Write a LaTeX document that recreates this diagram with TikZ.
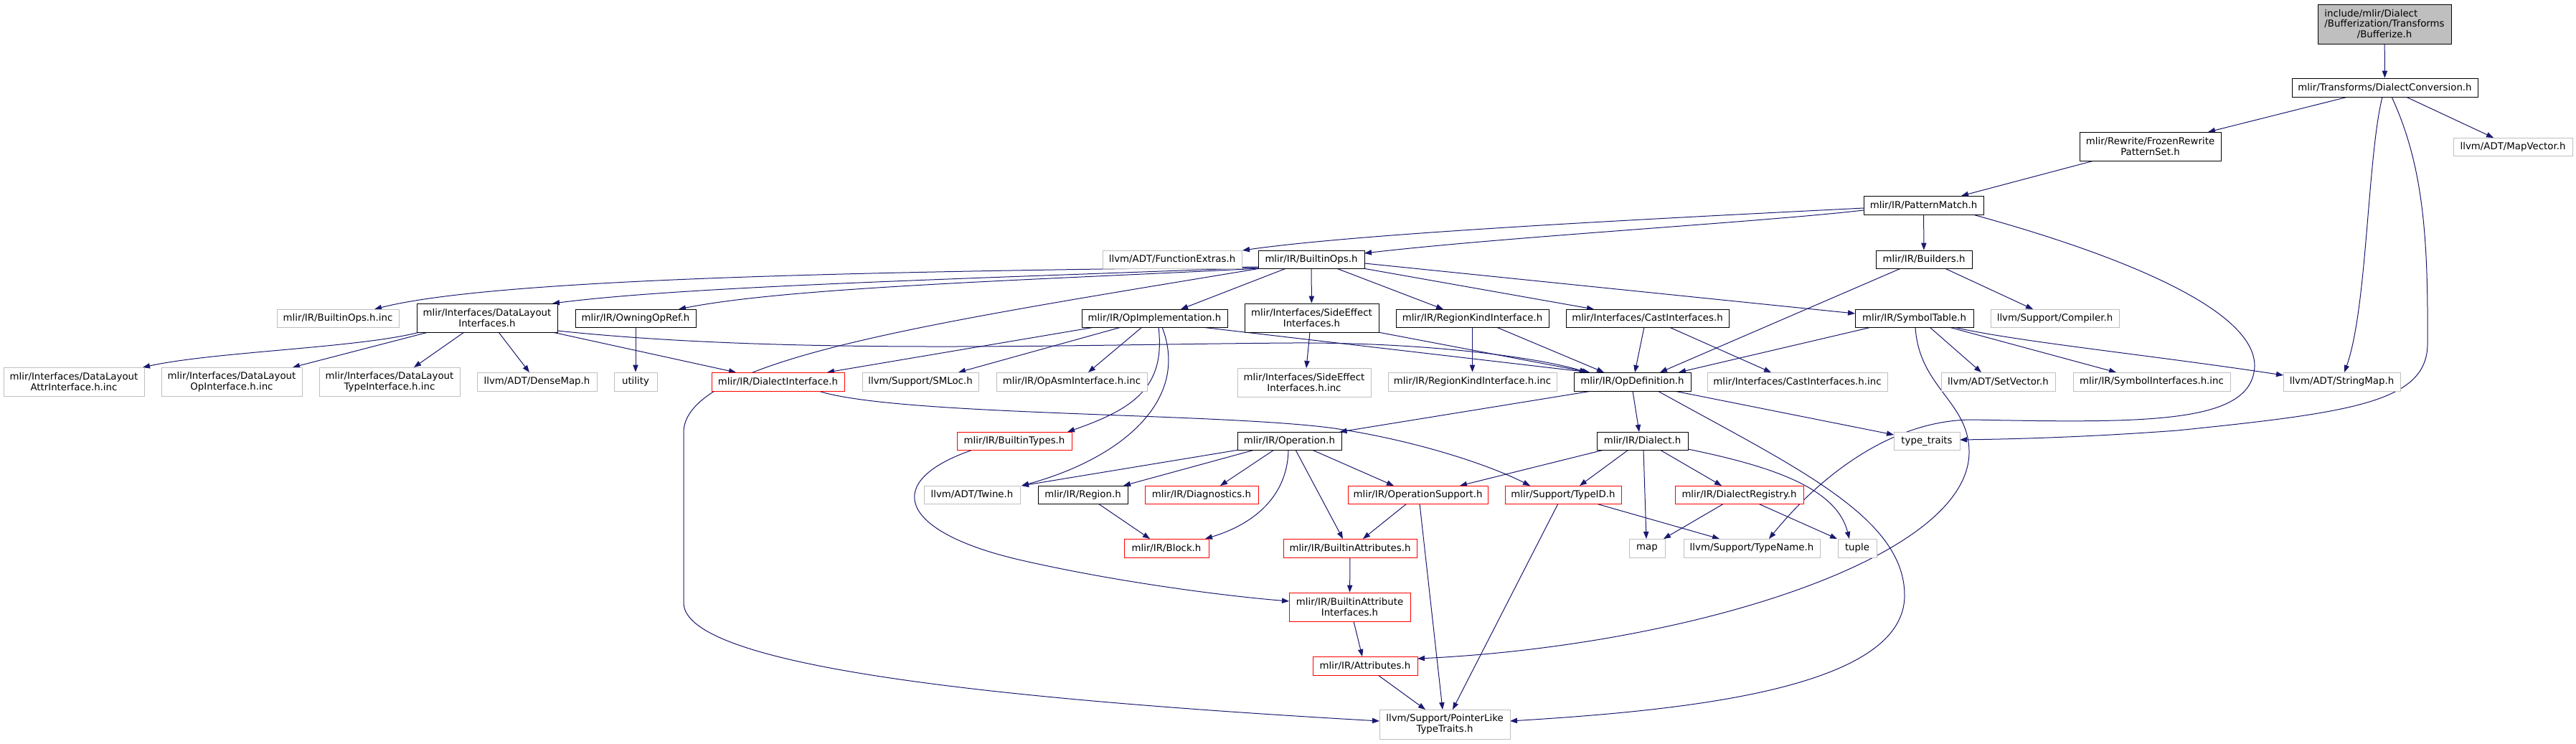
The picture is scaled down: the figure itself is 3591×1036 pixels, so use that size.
\documentclass[tikz,border=0pt]{standalone}
\usepackage{fontspec}
\setmainfont{DejaVu Sans}
\usetikzlibrary{arrows.meta}
\definecolor{edgec}{HTML}{191970}
\definecolor{greyb}{HTML}{BFBFBF}
\definecolor{redb}{HTML}{FF0000}
\pgfdeclarelayer{bg}
\pgfsetlayers{bg,main}
\newlength\rootw
\newcommand\nd[7]{\node[#6, minimum width={(#4-#2)*0.75pt}, minimum height={(#5-#3)*0.75pt}] (#1) at ({(#2+#4)/2},{(#3+#5)/2}) {#7};}
\tikzset{
  box/.style={draw=black, line width=0.65pt, fill=white, inner sep=0pt, align=center,
    font=\fontsize{10}{11.2}\selectfont, text=black},
  docn/.style={box},
  extn/.style={box, draw=greyb},
  trunc/.style={box, draw=redb},
  rootn/.style={box, fill=greyb},
  e/.style={draw=edgec, line width=0.75pt, -{Triangle[length=7.5pt,width=5.5pt]}},
}
\begin{document}
\settowidth\rootw{\fontsize{10}{11.2}\selectfont /Bufferization/Transforms}
\begin{tikzpicture}[x=0.75pt, y=-0.75pt]
\useasboundingbox (0,0) rectangle (3591,1036);
% nodes: name x1 y1 x2 y2 style text
\nd{root}{3231}{6}{3417}{61}{rootn}{\makebox[\rootw][l]{include/mlir/Dialect}\\/Bufferization/Transforms\\/Bufferize.h}
\nd{dconv}{3195}{109}{3454}{135}{docn}{mlir/Transforms/DialectConversion.h}
\nd{frozen}{2899}{184}{3096}{224}{docn}{mlir/Rewrite/FrozenRewrite\\PatternSet.h}
\nd{mapvec}{3420}{192}{3586}{217}{extn}{llvm/ADT/MapVector.h}
\nd{pmatch}{2598}{273}{2765}{299}{docn}{mlir/IR/PatternMatch.h}
\nd{funcext}{1537}{349}{1731}{374}{extn}{llvm/ADT/FunctionExtras.h}
\nd{bops}{1754}{349}{1902}{374}{docn}{mlir/IR/BuiltinOps.h}
\nd{builders}{2615}{349}{2749}{374}{docn}{mlir/IR/Builders.h}
\nd{bopsinc}{386}{431}{556}{456}{extn}{mlir/IR/BuiltinOps.h.inc}
\nd{dli}{581}{423}{777}{463}{docn}{mlir/Interfaces/DataLayout\\Interfaces.h}
\nd{owning}{802}{431}{970}{456}{docn}{mlir/IR/OwningOpRef.h}
\nd{opimpl}{1508}{431}{1711}{456}{docn}{mlir/IR/OpImplementation.h}
\nd{sideeff}{1735}{423}{1922}{463}{docn}{mlir/Interfaces/SideEffect\\Interfaces.h}
\nd{rki}{1946}{431}{2159}{456}{docn}{mlir/IR/RegionKindInterface.h}
\nd{casti}{2183}{431}{2410}{456}{docn}{mlir/Interfaces/CastInterfaces.h}
\nd{symtab}{2586}{431}{2751}{456}{docn}{mlir/IR/SymbolTable.h}
\nd{compiler}{2775}{431}{2954}{456}{extn}{llvm/Support/Compiler.h}
\nd{dlattr}{5}{512}{201}{552}{extn}{mlir/Interfaces/DataLayout\\AttrInterface.h.inc}
\nd{dlop}{225}{512}{421}{552}{extn}{mlir/Interfaces/DataLayout\\OpInterface.h.inc}
\nd{dltype}{445}{512}{641}{552}{extn}{mlir/Interfaces/DataLayout\\TypeInterface.h.inc}
\nd{densemap}{665}{519}{832}{545}{extn}{llvm/ADT/DenseMap.h}
\nd{utility}{856}{519}{916}{545}{extn}{utility}
\nd{dialif}{992}{519}{1177}{545}{trunc}{mlir/IR/DialectInterface.h}
\nd{smloc}{1202}{519}{1364}{545}{extn}{llvm/Support/SMLoc.h}
\nd{opasm}{1389}{519}{1599}{545}{extn}{mlir/IR/OpAsmInterface.h.inc}
\nd{seinc}{1725}{513}{1911}{553}{extn}{mlir/Interfaces/SideEffect\\Interfaces.h.inc}
\nd{rkiinc}{1935}{519}{2170}{545}{extn}{mlir/IR/RegionKindInterface.h.inc}
\nd{opdef}{2194}{519}{2357}{545}{docn}{mlir/IR/OpDefinition.h}
\nd{castinc}{2380}{519}{2631}{545}{extn}{mlir/Interfaces/CastInterfaces.h.inc}
\nd{setvec}{2706}{519}{2865}{545}{extn}{llvm/ADT/SetVector.h}
\nd{syminc}{2890}{519}{3109}{545}{extn}{mlir/IR/SymbolInterfaces.h.inc}
\nd{strmap}{3183}{519}{3346}{545}{extn}{llvm/ADT/StringMap.h}
\nd{btypes}{1334}{602}{1494}{627}{trunc}{mlir/IR/BuiltinTypes.h}
\nd{operation}{1725}{602}{1870}{627}{docn}{mlir/IR/Operation.h}
\nd{dialect}{2226}{602}{2353}{627}{docn}{mlir/IR/Dialect.h}
\nd{typetr}{2640}{602}{2732}{627}{extn}{type\_traits}
\nd{twine}{1288}{677}{1422}{702}{extn}{llvm/ADT/Twine.h}
\nd{region}{1447}{677}{1572}{702}{docn}{mlir/IR/Region.h}
\nd{diag}{1596}{677}{1754}{702}{trunc}{mlir/IR/Diagnostics.h}
\nd{opsupp}{1879}{677}{2074}{702}{trunc}{mlir/IR/OperationSupport.h}
\nd{typeid}{2098}{677}{2260}{702}{trunc}{mlir/Support/TypeID.h}
\nd{dreg}{2335}{677}{2514}{702}{trunc}{mlir/IR/DialectRegistry.h}
\nd{block}{1567}{751}{1685}{777}{trunc}{mlir/IR/Block.h}
\nd{battr}{1789}{751}{1975}{777}{trunc}{mlir/IR/BuiltinAttributes.h}
\nd{map}{2271}{751}{2321}{777}{extn}{map}
\nd{tname}{2347}{751}{2537}{777}{extn}{llvm/Support/TypeName.h}
\nd{tuple}{2562}{751}{2616}{777}{extn}{tuple}
\nd{bai}{1797}{826}{1966}{866}{trunc}{mlir/IR/BuiltinAttribute\\Interfaces.h}
\nd{attrs}{1830}{915}{1976}{941}{trunc}{mlir/IR/Attributes.h}
\nd{plt}{1923}{989}{2105}{1030}{extn}{llvm/Support/PointerLike\\TypeTraits.h}
\begin{pgfonlayer}{bg}
\fill[white] (0,0) rectangle (3591,1036);
\draw[e] (root) -- (dconv);
\draw[e] ([shift={(-51.5,13)}]dconv.center) -- ([shift={(80.5,-20)}]frozen.center);
\draw[e] ([shift={(29.5,13)}]dconv.center) -- ([shift={(-27,-12.5)}]mapvec.center);
\draw[e] ([shift={(-3.5,13)}]dconv.center) .. controls (3300,220) and (3300,430) .. ([shift={(3.5,-13)}]strmap.center);
\draw[e] ([shift={(9.5,13)}]dconv.center) .. controls (3378,230) and (3385,330) .. (3384,480) .. controls (3383,560) and (3280,575) .. (3035,600) .. controls (2900,610) and (2800,612) .. ([shift={(46,-1.5)}]typetr.center);
\draw[e] ([shift={(-78.5,20)}]frozen.center) -- ([shift={(52.5,-13)}]pmatch.center);
\draw[e] ([shift={(-83.5,4)}]pmatch.center) .. controls (2300,305) and (1900,325) .. ([shift={(98,-12.5)}]funcext.center);
\draw[e] ([shift={(-83.5,7)}]pmatch.center) .. controls (2450,310) and (2100,330) .. ([shift={(74,-8.5)}]bops.center);
\draw[e] (pmatch) -- (builders);
\draw[e] ([shift={(68.5,13)}]pmatch.center) .. controls (2900,340) and (3143,420) .. (3143,510) .. controls (3140,590) and (3000,590) .. (2750,585) .. controls (2640,585) and (2540,660) .. ([shift={(24,-13)}]tname.center);
\draw[e] ([shift={(-72,10.5)}]bops.center) .. controls (1300,378) and (700,385) .. ([shift={(51,-12.5)}]bopsinc.center);
\draw[e] ([shift={(-72,11.5)}]bops.center) .. controls (1300,390) and (950,400) .. ([shift={(91,-20)}]dli.center);
\draw[e] ([shift={(-70,12.5)}]bops.center) .. controls (1450,390) and (1100,400) .. ([shift={(60,-12.5)}]owning.center);
\draw[e] ([shift={(-35,12.5)}]bops.center) -- ([shift={(36.5,-12.5)}]opimpl.center);
\draw[e] (bops) -- (sideeff);
\draw[e] ([shift={(35,12.5)}]bops.center) -- ([shift={(-40.5,-12.5)}]rki.center);
\draw[e] ([shift={(72,12.5)}]bops.center) -- ([shift={(-74.5,-12.5)}]casti.center);
\draw[e] ([shift={(74,5.5)}]bops.center) -- ([shift={(-82.5,-6.5)}]symtab.center);
\draw[e] ([shift={(-71,12.5)}]bops.center) .. controls (1300,450) and (960,500) .. (953,600) -- (953,840) .. controls (953,930) and (1400,975) .. ([shift={(-91,-4.5)}]plt.center);
\draw[e] ([shift={(-94,20)}]dli.center) .. controls (500,485) and (300,490) .. ([shift={(96,-20)}]dlattr.center);
\draw[e] ([shift={(-82,20)}]dli.center) -- ([shift={(85,-20)}]dlop.center);
\draw[e] ([shift={(-32,20)}]dli.center) -- ([shift={(34,-20)}]dltype.center);
\draw[e] ([shift={(16,20)}]dli.center) -- ([shift={(-10.5,-13)}]densemap.center);
\draw[e] ([shift={(91,20)}]dli.center) -- ([shift={(-58.5,-13)}]dialif.center);
\draw[e] ([shift={(98,18)}]dli.center) .. controls (1100,495) and (1500,480) .. (1800,478) .. controls (2000,477) and (2150,500) .. ([shift={(-63.5,-13)}]opdef.center);
\draw[e] (owning) -- (utility);
\draw[e] ([shift={(-83.5,12.5)}]opimpl.center) -- ([shift={(68.5,-13)}]dialif.center);
\draw[e] ([shift={(-46.5,12.5)}]opimpl.center) -- ([shift={(53,-13)}]smloc.center);
\draw[e] ([shift={(-17.5,12.5)}]opimpl.center) -- ([shift={(23,-13)}]opasm.center);
\draw[e] ([shift={(5.5,12.5)}]opimpl.center) .. controls (1625,540) and (1580,570) .. ([shift={(74,-12.5)}]btypes.center);
\draw[e] ([shift={(10.5,12.5)}]opimpl.center) .. controls (1660,560) and (1560,640) .. ([shift={(69,-12.5)}]twine.center);
\draw[e] ([shift={(65.5,12.5)}]opimpl.center) -- ([shift={(-59.5,-13)}]opdef.center);
\draw[e] ([shift={(-2.5,20)}]sideeff.center) -- ([shift={(3,-20)}]seinc.center);
\draw[e] ([shift={(92.5,20)}]sideeff.center) -- ([shift={(-59.5,-13)}]opdef.center);
\draw[e] (rki) -- (rkiinc);
\draw[e] ([shift={(33.5,12.5)}]rki.center) -- ([shift={(-39.5,-13)}]opdef.center);
\draw[e] ([shift={(-4.5,12.5)}]casti.center) -- ([shift={(3.5,-13)}]opdef.center);
\draw[e] ([shift={(30.5,12.5)}]casti.center) -- ([shift={(-36.5,-13)}]castinc.center);
\draw[e] ([shift={(-32,12.5)}]builders.center) -- ([shift={(38.5,-13)}]opdef.center);
\draw[e] ([shift={(29,12.5)}]builders.center) -- ([shift={(-30.5,-12.5)}]compiler.center);
\draw[e] ([shift={(-59.5,12.5)}]symtab.center) -- ([shift={(64.5,-13)}]opdef.center);
\draw[e] ([shift={(21.5,12.5)}]symtab.center) -- ([shift={(-23.5,-13)}]setvec.center);
\draw[e] ([shift={(48.5,12.5)}]symtab.center) -- ([shift={(-49.5,-13)}]syminc.center);
\draw[e] ([shift={(51.5,11.5)}]symtab.center) .. controls (2800,475) and (3000,495) .. ([shift={(-81.5,-9)}]strmap.center);
\draw[e] ([shift={(1.5,12.5)}]symtab.center) .. controls (2675,540) and (2745,560) .. (2745,630) .. controls (2745,780) and (2350,900) .. ([shift={(73,-10)}]attrs.center);
\draw[e] ([shift={(-56.5,13)}]opdef.center) -- ([shift={(70,-12.5)}]operation.center);
\draw[e] ([shift={(0.5,13)}]opdef.center) -- ([shift={(-4.5,-12.5)}]dialect.center);
\draw[e] ([shift={(58.5,13)}]opdef.center) -- ([shift={(-46,-8.5)}]typetr.center);
\draw[e] ([shift={(35.5,13)}]opdef.center) .. controls (2500,650) and (2655,720) .. (2655,830) .. controls (2655,960) and (2350,990) .. ([shift={(91,-4.5)}]plt.center);
\draw[e] ([shift={(56.5,13)}]dialif.center) .. controls (1250,580) and (1700,575) .. (1860,597) .. controls (1980,615) and (2080,650) .. ([shift={(-46,-12.5)}]typeid.center);
\draw[e] ([shift={(-58,12.5)}]btypes.center) .. controls (1230,670) and (1250,740) .. (1420,780) .. controls (1550,810) and (1700,830) .. ([shift={(-84.5,-8)}]bai.center);
\draw[e] ([shift={(-70.5,12.5)}]operation.center) -- ([shift={(69,-12.5)}]twine.center);
\draw[e] ([shift={(-48.5,12.5)}]operation.center) -- ([shift={(56.5,-12.5)}]region.center);
\draw[e] ([shift={(-21.5,12.5)}]operation.center) -- ([shift={(26,-12.5)}]diag.center);
\draw[e] ([shift={(-1.5,12.5)}]operation.center) .. controls (1795,690) and (1750,730) .. ([shift={(54,-13)}]block.center);
\draw[e] ([shift={(8.5,12.5)}]operation.center) -- ([shift={(-10,-13)}]battr.center);
\draw[e] ([shift={(31.5,12.5)}]operation.center) -- ([shift={(-33.5,-12.5)}]opsupp.center);
\draw[e] ([shift={(21.5,12.5)}]region.center) -- ([shift={(-23,-13)}]block.center);
\draw[e] ([shift={(-53.5,12.5)}]dialect.center) -- ([shift={(58.5,-12.5)}]opsupp.center);
\draw[e] ([shift={(-19.5,12.5)}]dialect.center) -- ([shift={(23,-12.5)}]typeid.center);
\draw[e] ([shift={(1.5,12.5)}]dialect.center) -- ([shift={(-1,-13)}]map.center);
\draw[e] ([shift={(24.5,12.5)}]dialect.center) -- ([shift={(-24.5,-12.5)}]dreg.center);
\draw[e] ([shift={(63.5,11.5)}]dialect.center) .. controls (2470,650) and (2560,680) .. ([shift={(-11,-13)}]tuple.center);
\draw[e] ([shift={(-15.5,12.5)}]opsupp.center) -- ([shift={(18,-13)}]battr.center);
\draw[e] ([shift={(2.5,12.5)}]opsupp.center) -- ([shift={(-3,-20.5)}]plt.center);
\draw[e] ([shift={(-7,12.5)}]typeid.center) -- ([shift={(11,-20.5)}]plt.center);
\draw[e] ([shift={(46,12.5)}]typeid.center) -- ([shift={(-45,-13)}]tname.center);
\draw[e] ([shift={(-21.5,12.5)}]dreg.center) -- ([shift={(23,-13)}]map.center);
\draw[e] ([shift={(26.5,12.5)}]dreg.center) -- ([shift={(-28,-13)}]tuple.center);
\draw[e] (battr) -- (bai);
\draw[e] ([shift={(5.5,20)}]bai.center) -- ([shift={(-4,-13)}]attrs.center);
\draw[e] ([shift={(18,13)}]attrs.center) -- ([shift={(-27,-20.5)}]plt.center);
\end{pgfonlayer}
\end{tikzpicture}
\end{document}
